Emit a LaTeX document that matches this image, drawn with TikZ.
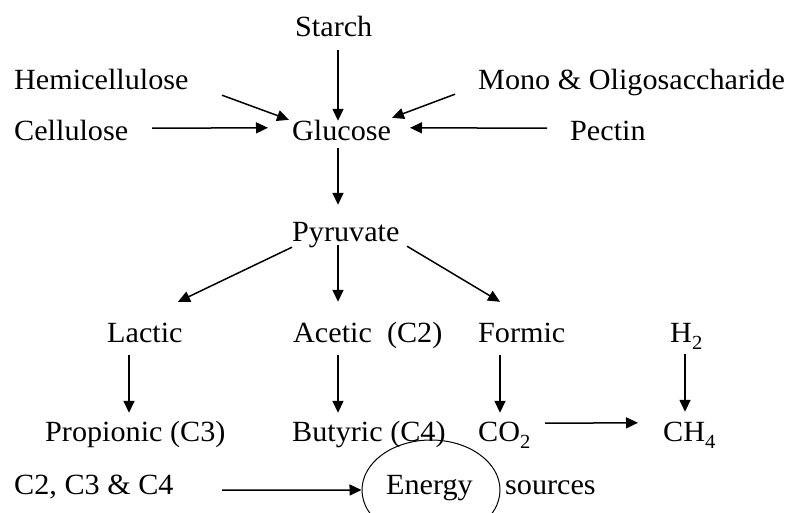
\documentclass[tikz,border=0pt]{standalone}
\usepackage{fontspec}
\setmainfont{Liberation Serif}[FakeStretch=1.03]
\usetikzlibrary{arrows.meta,shapes.geometric}
\newcommand\lowsub[1]{\raisebox{-7pt}{\fontsize{20}{20}\selectfont #1}}
\tikzset{
  lbl/.style={inner sep=0pt, text height=20pt, text depth=6pt, anchor=base west,
    font=\fontsize{29.3}{34}\selectfont},
  arr/.style={line width=1.5pt, -{Triangle[length=12pt,width=11pt]}},
  oval/.style={draw, ellipse, line width=1pt, minimum width=138pt, minimum height=100pt, inner sep=0pt}
}
\begin{document}
\begin{tikzpicture}[x=1pt,y=-1pt]
\useasboundingbox (0,0) rectangle (790,512);
% nodes
\node[lbl] (starch) at (295,36) {Starch};
\node[lbl] (hemi) at (14,89) {Hemicellulose};
\node[lbl] (mono) at (478,89) {Mono \& Oligosaccharide};
\node[lbl] (cell) at (14,140) {Cellulose};
\node[lbl] (gluc) at (292,140) {Glucose};
\node[lbl] (pectin) at (570,140) {Pectin};
\node[lbl] (pyr) at (292,241) {Pyruvate};
\node[lbl] (lactic) at (107,342) {Lactic};
\node[lbl] (acetic) at (293,342) {Acetic\ \ (C2)};
\node[lbl] (formic) at (478,342) {Formic};
\node[lbl] (h2) at (670,342) {H\lowsub{2}};
\node[lbl] (prop) at (45,441) {Propionic (C3)};
\node[lbl] (buty) at (292,441) {Butyric (C4)};
\node[lbl] (co2) at (478,441) {CO\lowsub{2}};
\node[lbl] (ch4) at (663,441) {CH\lowsub{4}};
\node[lbl] (c234) at (14,494) {C2, C3 \& C4};
\node[oval] (ov) at (431,490) {};
\node[lbl] (energy) at (386,494) {Energy};
\node[lbl] (sources) at (505,494) {sources};
% connectors
\draw[arr] ([shift={(43,8)}]starch.south west) -- ([shift={(46,1)}]gluc.north west);
\draw[arr] ([shift={(208,0)}]hemi.south west) -- ([shift={(-3,0)}]gluc.north west);
\draw[arr] ([shift={(138,-18)}]cell.south west) -- ([shift={(-24,8)}]gluc.north west);
\draw[arr] ([shift={(-23,-1)}]mono.south west) -- ([shift={(100,-2)}]gluc.north west);
\draw[arr] ([shift={(-23,-18)}]pectin.south west) -- ([shift={(118,8)}]gluc.north west);
\draw[arr] ([shift={(46,2)}]gluc.south west) -- ([shift={(46,-16)}]pyr.north west);
\draw[arr] ([shift={(0,0)}]pyr.south west) -- ([shift={(71,-20)}]lactic.north west);
\draw[arr] ([shift={(46,-2)}]pyr.south west) -- ([shift={(45,-20)}]acetic.north west);
\draw[arr] ([shift={(115,-1)}]pyr.south west) -- ([shift={(22,-20)}]formic.north west);
\draw[arr] ([shift={(22,7)}]lactic.south west) -- ([shift={(84,-8)}]prop.north west);
\draw[arr] ([shift={(45,7)}]acetic.south west) -- ([shift={(46,-8)}]buty.north west);
\draw[arr] ([shift={(22,7)}]formic.south west) -- ([shift={(22,-8)}]co2.north west);
\draw[arr] ([shift={(15,6)}]h2.south west) -- ([shift={(22,-9)}]ch4.north west);
\draw[arr] ([shift={(67,-24)}]co2.south west) -- ([shift={(-25,2)}]ch4.north west);
\draw[arr] ([shift={(208,-10)}]c234.south west) -- (ov.west);
\end{tikzpicture}
\end{document}
